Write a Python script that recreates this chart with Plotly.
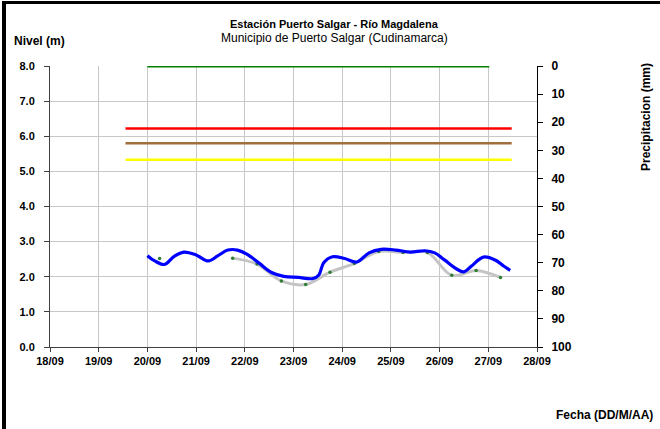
import pandas as pd
import plotly.graph_objects as go

# ---------------- data ----------------
base_date = "2011-09-18"

# Nivel (m) - continuous sensor record, x in days after 18/09 00:00
nivel_days = [2.00, 2.15, 2.35, 2.55, 2.75, 3.00, 3.25, 3.45, 3.65, 3.85,
              4.05, 4.30, 4.55, 4.80, 5.10, 5.40, 5.52, 5.62, 5.80, 6.05,
              6.30, 6.55, 6.80, 7.10, 7.40, 7.70, 7.90, 8.10, 8.35, 8.50,
              8.65, 8.90, 9.15, 9.30, 9.45]
nivel_m = [2.60, 2.45, 2.35, 2.58, 2.70, 2.62, 2.45, 2.60, 2.76, 2.76,
           2.64, 2.38, 2.12, 2.01, 1.98, 1.95, 2.05, 2.40, 2.57, 2.52,
           2.42, 2.68, 2.78, 2.76, 2.70, 2.74, 2.68, 2.48, 2.22, 2.14,
           2.30, 2.56, 2.47, 2.32, 2.18]

# Nivel observado (lecturas 06:00 / 18:00); None = no reading
obs_days = [2.25, 2.75, 3.25, 3.75, 4.25, 4.75, 5.25, 5.75, 6.25, 6.75,
            7.25, 7.75, 8.25, 8.75, 9.25]
obs_m = [2.52, None, None, 2.53, 2.36, 1.88, 1.78, 2.13, 2.38, 2.72,
         2.69, 2.69, 2.04, 2.18, 1.98]

# Threshold levels (m) with their start/end (days after 18/09)
umbral_verde = [8.0, 8.0]
umbral_verde_days = [2.0, 9.02]
umbral_rojo = [6.22, 6.22]
umbral_cafe = [5.80, 5.80]
umbral_amarillo = [5.33, 5.33]
umbral_days = [1.55, 9.48]

# Precipitacion (mm) - no bars in this period
precip_days = []
precip_mm = []

x_ticks_days = list(range(0, 11))
y_left_ticks = [0, 1, 2, 3, 4, 5, 6, 7, 8]
y_right_ticks = [0, 10, 20, 30, 40, 50, 60, 70, 80, 90, 100]


def to_dt(days):
    b = pd.Timestamp(base_date)
    return [b + pd.Timedelta(days=d) for d in days]


# ---------------- layout geometry ----------------
W, H = 660, 429
L, R, T, B = 50, 537, 66, 347


def px(x):
    return (x - L) / (R - L)


def py(y):
    return (B - y) / (B - T)


FONT = "Liberation Sans, Arial, sans-serif"

fig = go.Figure()

fig.add_trace(go.Bar(x=to_dt(precip_days), y=precip_mm, yaxis="y2",
                     marker_color="#4f81bd", showlegend=False))

fig.add_trace(go.Scatter(x=to_dt(umbral_verde_days), y=umbral_verde, mode="lines",
                         line=dict(color="#008000", width=3), showlegend=False))
fig.add_trace(go.Scatter(x=to_dt(umbral_days), y=umbral_rojo, mode="lines",
                         line=dict(color="#ff0000", width=2.5), showlegend=False))
fig.add_trace(go.Scatter(x=to_dt(umbral_days), y=umbral_cafe, mode="lines",
                         line=dict(color="#a0703c", width=2.5), showlegend=False))
fig.add_trace(go.Scatter(x=to_dt(umbral_days), y=umbral_amarillo, mode="lines",
                         line=dict(color="#ffff00", width=2.5), showlegend=False))

fig.add_trace(go.Scatter(x=to_dt(obs_days), y=obs_m, mode="lines+markers",
                         line=dict(color="#c4c4c4", width=3, shape="spline"),
                         marker=dict(color="#2e7d32", size=3.5),
                         connectgaps=False, showlegend=False))

fig.add_trace(go.Scatter(x=to_dt(nivel_days), y=nivel_m, mode="lines",
                         line=dict(color="#0000ff", width=3.2, shape="spline"),
                         showlegend=False))

fig.update_layout(
    width=W, height=H,
    margin=dict(l=L, r=W - R, t=T, b=H - B),
    paper_bgcolor="white", plot_bgcolor="white",
    font=dict(family=FONT, size=11, color="black"),
    xaxis=dict(
        type="date",
        range=[to_dt([0])[0], to_dt([10])[0]],
        tickvals=to_dt(x_ticks_days),
        tickformat="%d/%m",
        showgrid=True, gridcolor="#c8c8c8", gridwidth=1,
        showline=True, linecolor="#404040", linewidth=1,
        ticks="outside", ticklen=4, tickcolor="#404040",
        tickfont=dict(family=FONT, size=11, weight="bold"),
        zeroline=False,
    ),
    yaxis=dict(
        range=[0, 8],
        tickvals=y_left_ticks,
        tickformat=".1f",
        showgrid=True, gridcolor="#c8c8c8", gridwidth=1,
        showline=True, linecolor="#404040", linewidth=1,
        ticks="outside", ticklen=5, tickcolor="#404040",
        ticklabelstandoff=7,
        tickfont=dict(family=FONT, size=11, weight="bold"),
        zeroline=False,
    ),
    yaxis2=dict(
        overlaying="y", side="right",
        range=[100, 0],
        tickvals=y_right_ticks,
        showgrid=False,
        showline=True, linecolor="black", linewidth=1,
        ticks="outside", ticklen=5, tickcolor="black",
        ticklabelstandoff=6,
        tickfont=dict(family=FONT, size=12, weight="bold"),
        zeroline=False,
    ),
    bargap=0.3,
)

annotations = [
    dict(text="<b>Estación Puerto Salgar - Río Magdalena</b>", x=px(334), y=py(24),
         xanchor="center", yanchor="middle", font=dict(size=11)),
    dict(text="Municipio de Puerto Salgar (Cudinamarca)", x=px(334), y=py(38),
         xanchor="center", yanchor="middle", font=dict(size=12)),
    dict(text="<b>Nivel (m)</b>", x=px(12), y=py(41),
         xanchor="left", yanchor="middle", font=dict(size=12)),
    dict(text="<b>Precipitacion (mm)</b>", x=px(646), y=py(117), textangle=-90,
         xanchor="center", yanchor="middle", font=dict(size=12)),
    dict(text="<b>Fecha (DD/M/AA)</b>", x=px(655), y=py(415),
         xanchor="right", yanchor="middle", font=dict(size=12)),
]
for a in annotations:
    a.update(xref="paper", yref="paper", showarrow=False)
fig.update_layout(annotations=annotations)

fig.update_layout(shapes=[
    dict(type="rect", xref="paper", yref="paper", x0=px(2), x1=px(6), y0=py(429), y1=py(1),
         fillcolor="black", line=dict(width=0), layer="above"),
    dict(type="rect", xref="paper", yref="paper", x0=px(2), x1=px(660), y0=py(4), y1=py(1),
         fillcolor="black", line=dict(width=0), layer="above"),
])

fig.write_html(
    "out.html",
    config={"displayModeBar": False},
    post_script="document.body.style.margin='0';document.body.style.padding='0';"
                "document.documentElement.style.overflow='hidden';",
)
